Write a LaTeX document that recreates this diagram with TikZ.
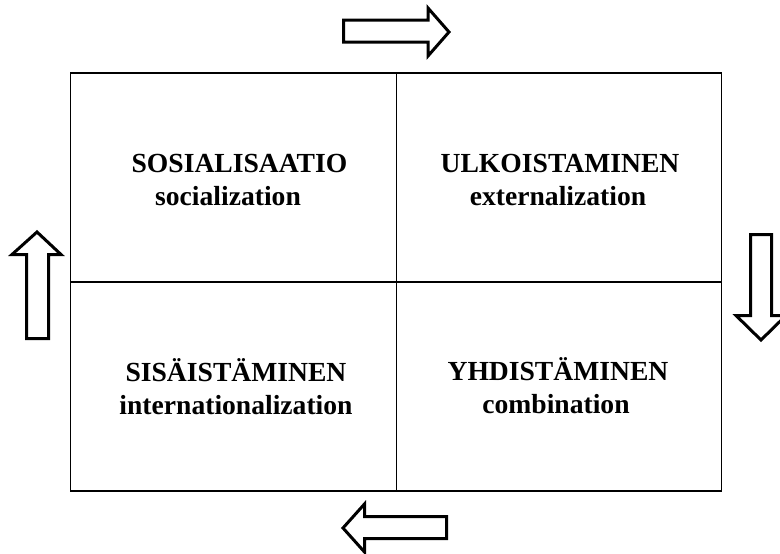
\documentclass[tikz,border=0pt]{standalone}
\usepackage{fontspec}
\setmainfont{Liberation Serif}
\begin{document}
\begin{tikzpicture}[x=1pt,y=-1pt,
  cell/.style={draw=black,line width=1.3pt,rectangle,inner sep=0pt,outer sep=0pt,minimum width=325.5pt,minimum height=209pt},
  lbl/.style={anchor=base,inner sep=0pt,font=\fontsize{27.6}{30}\selectfont\bfseries},
  blockarrow/.style={draw=black,line width=3pt,line join=miter,fill=white}]
\useasboundingbox (0,0) rectangle (780,554);
\clip (0,0) rectangle (780,554);
% cells
\node[cell] (c11) at (233.5,177.5) {};
\node[cell] (c12) at (559,177.5) {};
\node[cell] (c21) at (233.5,386.5) {};
\node[cell] (c22) at (559,386.5) {};
% texts
\node[lbl] (t11a) at (239.5,172) {SOSIALISAATIO};
\node[lbl] (t11b) at (228,205) {socialization};
\node[lbl] (t12a) at (560,172) {ULKOISTAMINEN};
\node[lbl] (t12b) at (558,205) {externalization};
\node[lbl] (t21a) at (236,381) {SISÄISTÄMINEN};
\node[lbl] (t21b) at (236,414) {internationalization};
\node[lbl] (t22a) at (558,380) {YHDISTÄMINEN};
\node[lbl] (t22b) at (556,413) {combination};
% block arrows
\draw[blockarrow] (343.5,20) -- (428,20) -- (428,8) -- (449,32) -- (428,56) -- (428,42) -- (343.5,42) -- cycle;
\draw[blockarrow] (446.5,516.5) -- (364.5,516.5) -- (364.5,504) -- (343,528) -- (364.5,552) -- (364.5,538.5) -- (446.5,538.5) -- cycle;
\draw[blockarrow] (26.5,338.5) -- (26.5,254.5) -- (12,254.5) -- (37,232) -- (61,254.5) -- (48.5,254.5) -- (48.5,338.5) -- cycle;
\draw[blockarrow] (750.5,234.5) -- (771.5,234.5) -- (771.5,315.5) -- (786,315.5) -- (761,340) -- (736,315.5) -- (750.5,315.5) -- cycle;
\end{tikzpicture}
\end{document}
